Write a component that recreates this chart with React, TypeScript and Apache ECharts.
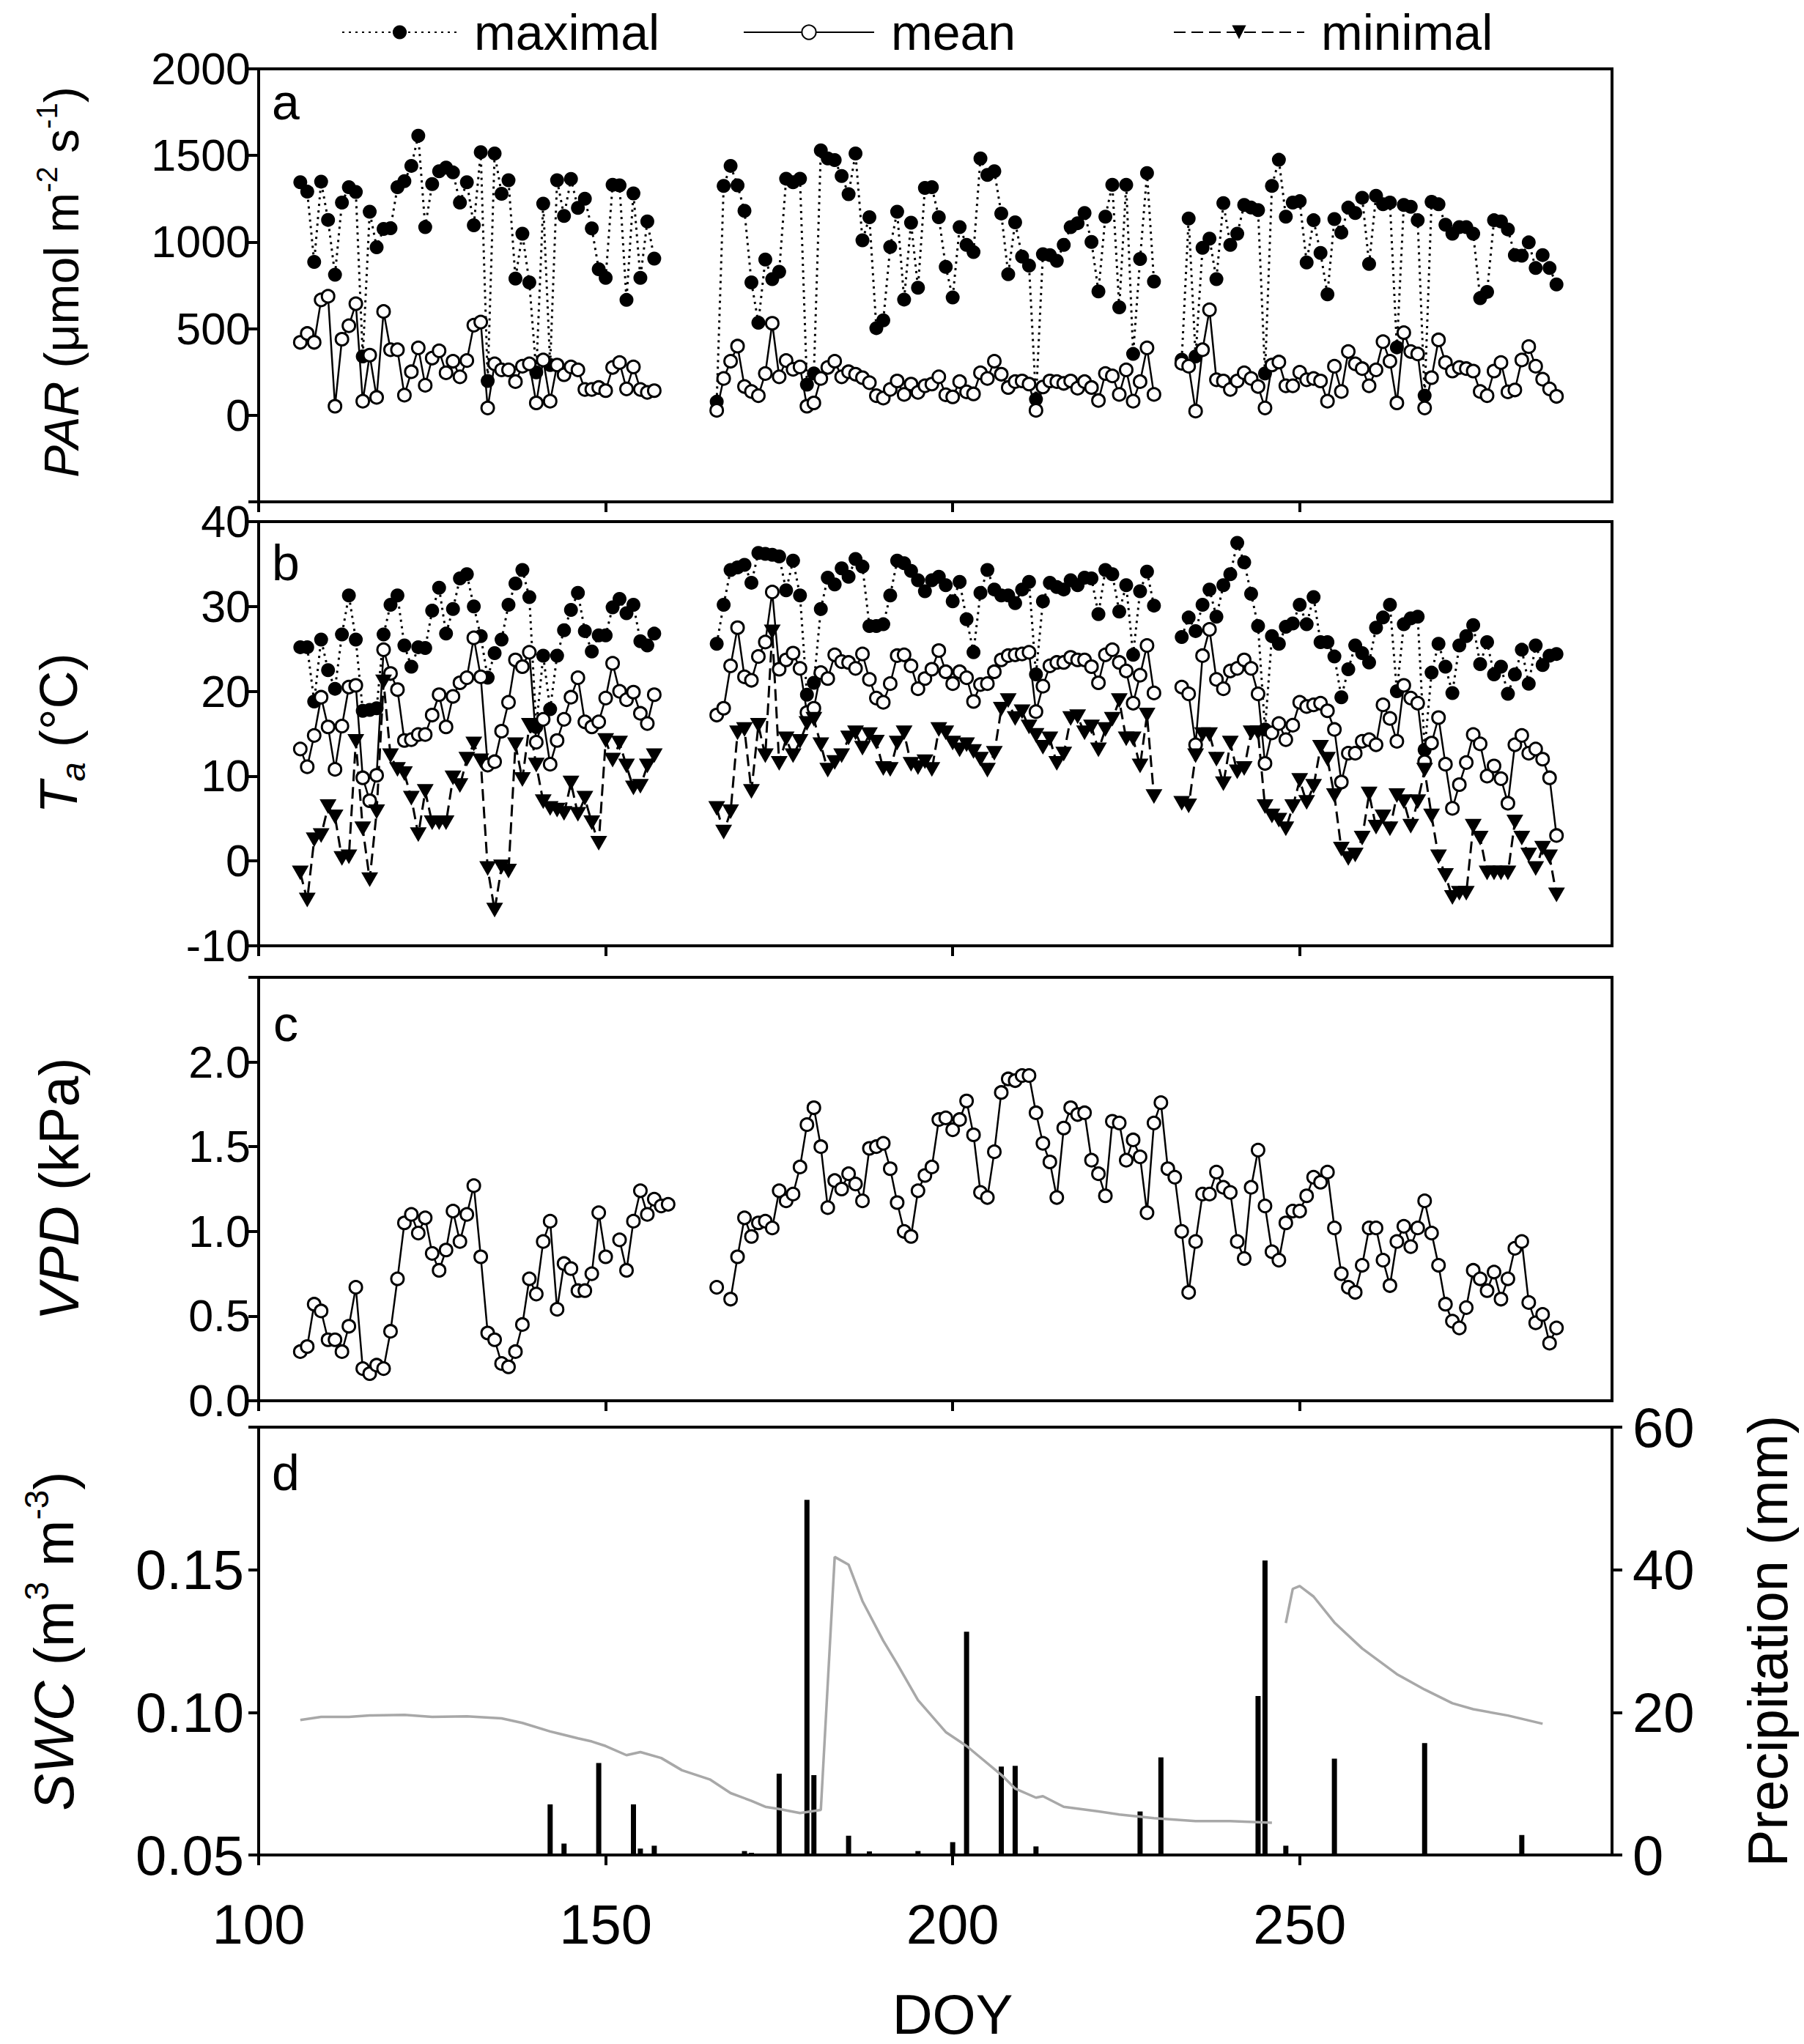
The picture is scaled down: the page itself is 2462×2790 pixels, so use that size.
import React, { useEffect, useRef } from 'react';
import * as echarts from 'echarts';

// ---------- Data ----------
// Day-of-year of the first value in each measurement block (consecutive days)
const seg1Start = 106;
const seg2Start = 166;
const seg3Start = 233;

// Panel a: PAR (µmol m-2 s-1)
const parMax1 = [1345,1291,885,1349,1128,811,1228,1317,1289,340,1175,970,1076,1080,1317,1352,1440,1614,1086,1335,1409,1430,1402,1228,1345,1097,1519,198,1511,1279,1357,789,1048,767,248,1222,290,1357,1151,1364,1197,1250,1079,843,793,1331,1327,666,1281,793,1119,904];
const parMax2 = [78,1324,1440,1327,1180,767,534,899,786,828,1366,1345,1366,177,241,1529,1483,1473,1381,1277,1511,1010,1143,503,548,972,1175,668,1112,736,1313,1317,1143,857,680,1086,984,942,1483,1388,1409,1165,814,1114,916,864,92,930,925,892,984,1086,1109,1168,1001,715,1147,1331,623,1331,354,902,1398,772];
const parMax3 = [321,1136,340,967,1020,786,1225,984,1048,1214,1199,1185,241,1324,1475,1147,1228,1236,882,1126,937,698,1133,1055,1199,1168,1256,874,1267,1218,1228,392,1214,1204,1126,113,1232,1218,1100,1048,1086,1086,1048,676,712,1126,1119,1073,925,921,998,850,925,850,755];
const parMean1 = [421,472,421,666,687,52,439,517,644,81,347,103,599,378,378,116,251,389,173,330,372,245,312,222,316,520,538,42,297,262,262,194,283,297,71,319,81,290,234,279,262,149,149,160,142,276,304,152,279,149,132,142];
const parMean2 = [28,212,312,399,166,137,113,241,531,222,316,265,279,52,71,212,276,312,222,251,237,217,188,113,99,149,198,120,180,132,170,180,222,118,106,194,135,123,245,212,312,237,160,194,198,180,28,163,198,194,184,198,156,194,160,85,241,227,120,262,81,194,389,120];
const parMean3 = [300,283,24,378,609,205,198,149,198,245,212,166,42,290,307,170,170,248,205,212,198,81,283,137,368,297,269,170,262,425,312,71,477,368,354,42,217,435,304,255,276,269,255,137,113,255,304,135,146,319,396,283,208,152,109];

// Panel b: air temperature (°C)
const taMax1 = [25.2,25.2,18.8,26.1,22.5,20.3,26.7,31.3,26.1,17.7,17.8,18.0,26.7,30.2,31.3,25.4,22.9,25.2,25.1,29.5,32.2,26.8,29.7,33.3,33.8,30.0,26.5,21.6,24.5,26.1,30.2,32.7,34.3,31.1,15.8,24.2,17.9,24.2,27.2,29.6,31.6,27.1,24.7,26.6,26.6,29.9,30.9,29.2,30.2,25.9,25.4,26.8];
const taMax2 = [25.6,30.2,34.3,34.6,34.9,32.8,36.3,36.2,36.1,35.9,31.9,35.4,31.3,19.6,21.0,29.7,33.4,32.6,34.5,33.5,35.6,34.7,27.7,27.7,27.9,31.3,35.4,35.1,34.2,33.1,31.8,33.1,33.5,32.5,30.6,32.9,28.5,24.6,31.6,34.3,32.0,31.3,31.3,30.4,32.0,32.9,22.0,30.6,32.8,32.3,32.0,33.1,32.5,33.4,33.3,29.1,34.3,33.8,29.4,32.5,24.3,31.8,34.1,30.1];
const taMax3 = [26.4,28.7,27.1,30.2,32.0,28.8,32.5,33.8,37.5,35.2,31.5,27.7,15.5,26.5,25.6,27.6,28.0,30.2,27.9,31.1,25.8,25.8,24.1,19.3,22.6,25.4,24.5,23.4,27.5,28.7,30.2,20.0,27.9,28.6,28.8,13.1,22.2,25.6,22.9,19.8,25.4,26.5,27.8,23.2,25.8,22.0,22.9,19.7,22.0,24.9,20.9,25.4,23.1,24.2,24.4];
const taMean1 = [13.2,11.1,14.8,19.3,15.8,10.8,15.9,20.5,20.7,9.8,7.1,10.1,24.9,22.1,20.2,14.2,14.3,14.9,14.9,17.2,19.6,15.8,19.4,21.0,21.6,26.3,21.7,11.3,11.7,15.3,18.7,23.7,22.9,24.6,14.0,16.7,11.4,14.2,16.7,19.3,21.6,16.4,15.8,16.4,19.2,23.3,20.0,19.0,19.9,17.4,16.2,19.6];
const taMean2 = [17.2,18.0,23.0,27.5,21.7,21.3,24.1,25.8,31.7,22.6,23.7,24.5,22.7,17.5,18.0,22.2,21.5,24.3,23.5,23.4,22.7,24.4,21.4,19.2,18.7,20.9,24.2,24.3,23.0,20.3,21.5,22.6,24.8,22.3,20.9,22.3,21.6,18.8,20.8,20.9,22.3,23.7,24.2,24.3,24.4,24.6,17.6,20.6,23.0,23.4,23.4,24.0,23.7,23.7,22.9,21.0,24.3,24.9,23.4,22.4,18.6,21.9,25.4,19.8];
const taMean3 = [20.5,19.7,13.7,24.2,27.3,21.4,20.3,22.4,22.7,23.7,22.7,19.7,11.5,15.1,16.2,14.3,16.0,18.7,18.2,18.4,18.6,17.7,15.5,9.3,12.7,12.7,14.1,14.3,13.7,18.4,16.8,14.1,20.7,19.2,18.6,11.7,13.9,16.9,11.4,6.2,9.0,11.6,14.9,13.8,10.0,11.2,9.7,6.8,13.7,14.8,12.7,13.2,12.0,9.8,3.0];
const taMin1 = [-1.4,-4.6,2.5,3.0,6.4,5.2,0.3,0.5,14.1,3.8,-2.2,5.8,21.1,12.4,10.8,10.3,7.4,3.1,8.2,4.5,4.5,4.5,9.8,8.9,12.0,13.8,11.8,-0.9,-5.8,-0.7,-1.2,13.7,9.6,16.0,11.3,7.0,6.2,6.0,5.6,9.2,5.5,7.4,4.5,2.1,14.2,11.9,13.9,11.2,8.6,8.8,11.2,12.4];
const taMin2 = [6.2,3.4,5.8,15.1,15.5,8.2,16.0,12.4,27.0,11.5,14.4,12.4,14.1,16.2,16.7,13.7,10.7,11.6,12.4,14.5,15.1,13.3,14.9,14.0,10.9,10.8,13.9,15.1,11.4,11.0,11.7,10.8,15.5,15.1,13.9,13.1,13.7,12.9,12.0,10.7,12.7,17.9,18.9,16.8,17.6,15.8,14.8,13.4,14.4,11.5,12.6,16.8,17.0,15.1,15.8,13.1,15.5,16.7,18.9,14.4,14.4,11.2,17.2,7.6];
const taMin3 = [6.8,6.5,12.4,14.9,14.9,12.0,9.1,13.9,10.5,10.9,15.1,15.1,6.4,5.3,4.8,3.8,6.4,9.5,6.9,8.8,13.4,12.0,7.7,1.4,0.3,0.7,2.7,7.9,4.0,5.2,3.8,7.7,7.0,4.1,7.0,10.7,5.3,0.5,-1.7,-4.3,-3.8,-3.8,4.1,2.7,-1.4,-1.4,-1.4,-1.4,4.6,2.7,0.7,-0.9,1.5,0.5,-4.0];

// Panel c: VPD (kPa), null = missing day
const vpdStart1 = 106;
const vpdStart2 = 166;
const vpd1 = [0.29,0.32,0.57,0.53,0.36,0.36,0.29,0.44,0.67,0.19,0.16,0.21,0.19,0.41,0.72,1.05,1.10,0.99,1.08,0.87,0.77,0.89,1.12,0.94,1.10,1.27,0.85,0.40,0.36,0.22,0.20,0.29,0.45,0.72,0.63,0.94,1.06,0.54,0.81,0.78,0.65,0.65,0.75,1.11,0.85,null,0.95,0.77,1.06,1.24,1.10,1.19,1.15,1.16];
const vpd2 = [0.67,null,0.60,0.85,1.08,0.97,1.05,1.06,1.02,1.24,1.18,1.22,1.38,1.63,1.73,1.50,1.14,1.30,1.25,1.34,1.28,1.18,1.49,1.50,1.52,1.37,1.17,1.00,0.97,1.24,1.33,1.38,1.66,
  1.67,1.60,1.66,1.77,1.57,1.23,1.20,1.47,1.82,1.90,1.89,1.92,1.92,1.70,1.52,1.41,1.20,1.61,1.73,1.69,1.70,1.42,1.34,1.21,1.65,1.64,1.42,1.54,1.44,1.11,1.64,1.76,1.37,1.32,1.00,0.64,0.94,1.22,1.22,1.35,1.26,1.23,0.94,0.84,1.26,1.48,1.15,0.88,0.83,1.05,1.12,1.12,1.21,1.32,1.29,1.35,1.02,0.75,0.67,0.64,0.80,1.02,1.02,0.83,0.68,0.94,1.03,0.91,1.02,1.18,0.99,0.80,0.57,0.47,0.43,0.55,0.77,0.72,0.65,0.76,0.60,0.72,0.90,0.94,0.58,0.46,0.51,0.34,0.43];

// Panel d: soil water content (m3 m-3) and daily precipitation (mm)
const swcDoyA = [106,109,113,116,121,125,130,135,138,142,146,148,150,153,155,158,161,165,168,171,173,175,178,181,183,185,187,190,192,195,199,202,207,209,212,213,216,221,224,229,235,240,246];
const swcValA = [0.0973,0.0984,0.0984,0.0989,0.0991,0.0984,0.0986,0.0979,0.0963,0.0933,0.0909,0.0898,0.0882,0.0850,0.0861,0.0840,0.0797,0.0765,0.0717,0.0690,0.0669,0.0661,0.0647,0.0658,0.1545,0.1518,0.1390,0.1251,0.1170,0.1043,0.0931,0.0882,0.0781,0.0733,0.0701,0.0706,0.0669,0.0653,0.0642,0.0629,0.0619,0.0619,0.0613];
const swcDoyB = [248,249,250,252,255,259,264,268,272,275,280,285];
const swcValB = [0.1313,0.1433,0.1443,0.1406,0.1315,0.1224,0.1134,0.1080,0.1032,0.1011,0.0989,0.0960];
const rainDoy = [142,144,149,154,155,157,170,171,175,179,180,185,188,195,200,202,207,209,212,227,230,244,245,248,255,268,282];
const rainMm = [7.1,1.6,12.9,7.1,0.9,1.3,0.55,0.3,11.4,49.8,11.2,2.7,0.5,0.55,1.8,31.3,12.4,12.5,1.2,6.1,13.7,22.3,41.3,1.3,13.5,15.7,2.8];

// Axis ticks
const doyTicks = [100, 150, 200, 250];

// ---------- Helpers ----------
function blocks(starts: number[], segs: (number | null)[][]) {
  const out: any[] = [];
  segs.forEach((s, k) => {
    if (k > 0) out.push([starts[k] - 1, '-']);
    s.forEach((v, i) => out.push([starts[k] + i, v == null ? '-' : v]));
  });
  return out;
}
function pairs(xs: number[], ys: number[]) {
  return xs.map((x, i) => [x, ys[i]]);
}

const FONT = "'Liberation Sans', Arial, sans-serif";
const BLACK = '#000';

const L = 353;
const W = 1847;
const grids = [
  { top: 94, height: 591 },
  { top: 712, height: 579 },
  { top: 1334, height: 578 },
  { top: 1948, height: 584 },
];

export default function App() {
  const ref = useRef<HTMLDivElement>(null);
  useEffect(() => {
    if (!ref.current) return;
    const chart = echarts.init(ref.current, null, { renderer: 'svg', width: 2462, height: 2790 });

    const tickFont = 61;
    const dFont = 76;

    const xAxes = grids.map((_, i) => ({
      type: 'value',
      gridIndex: i,
      min: 100,
      max: 295,
      axisLine: { show: true, onZero: false, lineStyle: { color: BLACK, width: 4 } },
      axisTick: { show: true, inside: false, length: 14, lineStyle: { color: BLACK, width: 4 }, customValues: doyTicks },
      axisLabel: { show: i === 3, customValues: doyTicks, fontSize: dFont, fontFamily: FONT, color: BLACK, margin: 56 },
      splitLine: { show: false },
    }));

    const yBase = (i: number) => ({
      type: 'value',
      gridIndex: i,
      axisLine: { show: true, onZero: false, lineStyle: { color: BLACK, width: 4 } },
      axisTick: { show: true, inside: false, length: 14, lineStyle: { color: BLACK, width: 4 } },
      splitLine: { show: false },
    });

    const yAxes = [
      { ...yBase(0), min: -500, max: 2000, interval: 500,
        axisLabel: { fontSize: tickFont, fontFamily: FONT, color: BLACK, margin: 11, formatter: (v: number) => (v < 0 ? '' : String(v)) } },
      { ...yBase(1), min: -10, max: 40, interval: 10,
        axisLabel: { fontSize: tickFont, fontFamily: FONT, color: BLACK, margin: 11 } },
      { ...yBase(2), min: 0, max: 2.5, interval: 0.5,
        axisLabel: { fontSize: tickFont, fontFamily: FONT, color: BLACK, margin: 11, formatter: (v: number) => (v > 2.4 ? '' : v.toFixed(1)) } },
      { ...yBase(3), min: 0.05, max: 0.2, interval: 0.05,
        axisLabel: { fontSize: dFont, fontFamily: FONT, color: BLACK, margin: 20, formatter: (v: number) => (v > 0.19 ? '' : v.toFixed(2)) } },
      { ...yBase(3), position: 'right', min: 0, max: 60, interval: 20,
        axisLabel: { fontSize: dFont, fontFamily: FONT, color: BLACK, margin: 28 } },
    ];

    const maxStyle = {
      type: 'line', name: 'maximal', symbol: 'circle', symbolSize: 19,
      itemStyle: { color: BLACK, borderWidth: 0 },
      lineStyle: { color: BLACK, width: 3, type: [3, 6] },
      connectNulls: false,
    };
    const meanStyle = {
      type: 'line', name: 'mean', symbol: 'circle', symbolSize: 17,
      itemStyle: { color: '#fff', borderColor: BLACK, borderWidth: 3 },
      lineStyle: { color: BLACK, width: 2.5, type: 'solid' },
      connectNulls: false,
    };
    const minStyle = {
      type: 'line', name: 'minimal', symbol: 'triangle', symbolRotate: 180, symbolSize: [23, 20],
      itemStyle: { color: BLACK, borderWidth: 0 },
      lineStyle: { color: BLACK, width: 3, type: [16, 8] },
      connectNulls: false,
    };

    const starts = [seg1Start, seg2Start, seg3Start];

    const series: any[] = [
      { ...maxStyle, xAxisIndex: 0, yAxisIndex: 0, data: blocks(starts, [parMax1, parMax2, parMax3]) },
      { ...meanStyle, xAxisIndex: 0, yAxisIndex: 0, data: blocks(starts, [parMean1, parMean2, parMean3]) },
      { ...maxStyle, xAxisIndex: 1, yAxisIndex: 1, data: blocks(starts, [taMax1, taMax2, taMax3]) },
      { ...meanStyle, xAxisIndex: 1, yAxisIndex: 1, data: blocks(starts, [taMean1, taMean2, taMean3]) },
      { ...minStyle, xAxisIndex: 1, yAxisIndex: 1, data: blocks(starts, [taMin1, taMin2, taMin3]) },
      { ...meanStyle, name: 'VPD', xAxisIndex: 2, yAxisIndex: 2, data: blocks([vpdStart1, vpdStart2], [vpd1, vpd2]) },
      { type: 'line', name: 'SWC', xAxisIndex: 3, yAxisIndex: 3, symbol: 'none',
        lineStyle: { color: '#a8a8a8', width: 3.5 }, z: 3,
        data: [...pairs(swcDoyA, swcValA), [247, '-'], ...pairs(swcDoyB, swcValB)] },
      { type: 'bar', name: 'Precipitation', xAxisIndex: 3, yAxisIndex: 4, barWidth: 7,
        itemStyle: { color: BLACK }, z: 2, data: pairs(rainDoy, rainMm) },
    ];

    const legendText = { fontSize: 68, fontFamily: FONT, color: BLACK, padding: [0, 0, 0, 18] };
    const legendCommon = { top: 10, itemHeight: 24, selectedMode: false, textStyle: legendText, padding: 0 };

    const rich = (size: number) => ({
      i: { fontStyle: 'italic', fontSize: size, fontFamily: FONT, lineHeight: size * 1.2 },
      s: { fontSize: Math.round(size * 0.6), fontFamily: FONT, verticalAlign: 'top', lineHeight: size * 1.2 },
      b: { fontStyle: 'italic', fontSize: Math.round(size * 0.65), fontFamily: FONT, verticalAlign: 'bottom', lineHeight: size * 1.05 },
      n: { fontSize: size, fontFamily: FONT, lineHeight: size * 1.2 },
    });
    const vText = (x: number, y: number, text: string, size: number) => ({
      type: 'text', x, y, rotation: Math.PI / 2,
      style: { text, rich: rich(size), fontSize: size, fontFamily: FONT, fill: BLACK, align: 'center', verticalAlign: 'middle' },
    });
    const letter = (y: number, t: string) => ({
      type: 'text', x: 390, y,
      style: { text: t, fontSize: 68, fontFamily: FONT, fill: BLACK, align: 'center', verticalAlign: 'middle' },
    });

    chart.setOption({
      animation: false,
      backgroundColor: '#fff',
      grid: grids.map((g) => ({ left: L, width: W, top: g.top, height: g.height, show: true, borderColor: BLACK, borderWidth: 4, containLabel: false })),
      xAxis: xAxes,
      yAxis: yAxes,
      legend: [
        { ...legendCommon, data: ['maximal'], left: 466, itemWidth: 157 },
        { ...legendCommon, data: ['mean'], left: 1014, itemWidth: 178 },
        { ...legendCommon, data: ['minimal'], left: 1601, itemWidth: 178 },
      ],
      series,
      graphic: [
        letter(139, 'a'),
        letter(768, 'b'),
        letter(1397, 'c'),
        letter(2010, 'd'),
        vText(84, 385, '{i|PAR}{n| (μmol m}{s|-2}{n| s}{s|-1}{n|)}', 66),
        vText(80, 1001, '{i|T}{b|a}{n| (°C)}', 72),
        vText(80, 1623, '{i|VPD}{n| (kPa)}', 76),
        vText(73, 2240, '{i|SWC}{n| (m}{s|3}{n| m}{s|-3}{n|)}', 76),
        vText(2412, 2240, '{n|Precipitation (mm)}', 76),
        { type: 'text', x: 1300, y: 2749,
          style: { text: 'DOY', fontSize: 76, fontFamily: FONT, fill: BLACK, align: 'center', verticalAlign: 'middle' } },
      ],
    });

    return () => chart.dispose();
  }, []);

  return (
    <div
      ref={ref}
      style={{ position: 'absolute', left: 0, top: 0, width: 2462, height: 2790, background: '#fff' }}
    />
  );
}
